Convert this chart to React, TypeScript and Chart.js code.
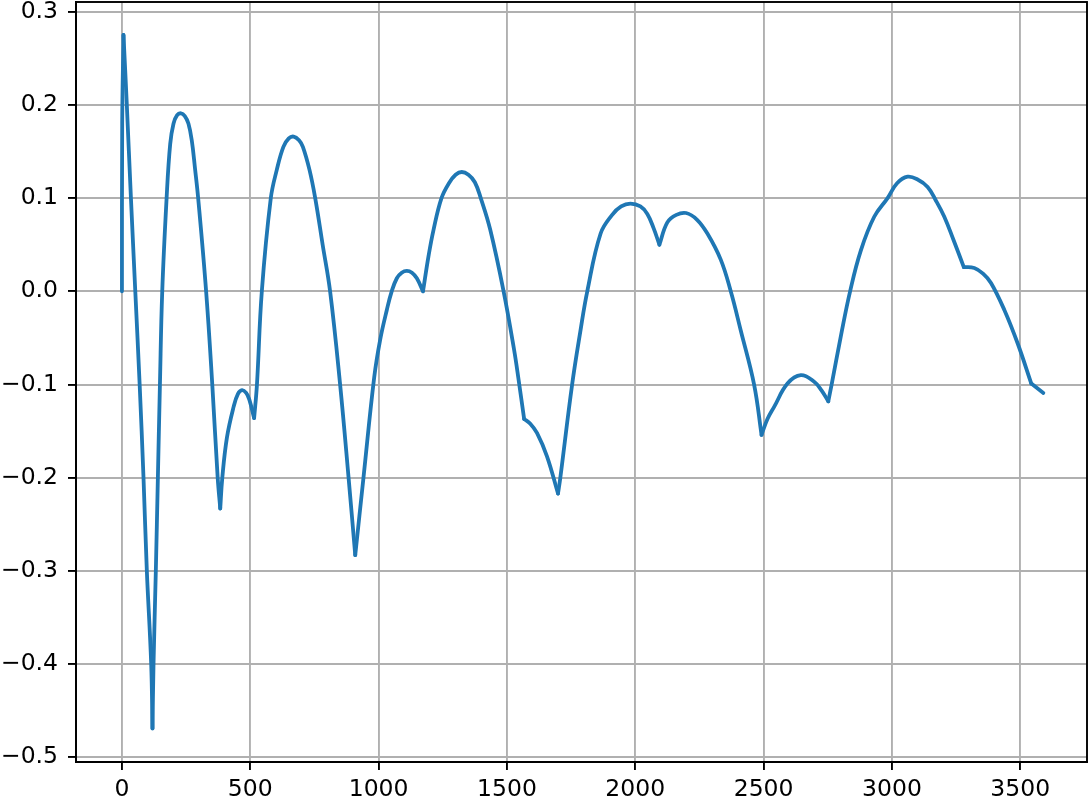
import React, { useEffect, useRef } from "react";
import { Chart, registerables } from "chart.js";

Chart.register(...registerables);

const xValues = [
  0, 1, 6, 19, 35, 52, 69, 84, 97, 114, 119, 123, 132, 140, 148, 157, 174, 188, 201, 215, 230, 245, 259, 272,
  285, 297, 328, 352, 373, 383, 391, 409, 435, 452, 468, 484, 496, 515, 526, 545, 580, 603, 629, 650, 669, 690,
  705, 731, 753, 782, 811, 850, 883, 909, 941, 983, 1006, 1032, 1051, 1071, 1090, 1110, 1130, 1149, 1173, 1194,
  1214, 1245, 1274, 1300, 1324, 1350, 1375, 1398, 1435, 1487, 1528, 1545, 1567, 1591, 1617, 1656, 1699, 1708,
  1754, 1786, 1813, 1865, 1910, 1945, 1981, 2020, 2047, 2071, 2094, 2125, 2160, 2198, 2240, 2281, 2333, 2372,
  2411, 2463, 2492, 2515, 2541, 2593, 2645, 2697, 2725, 2752, 2765, 2801, 2837, 2879, 2931, 2983, 3020, 3061,
  3100, 3139, 3170, 3204, 3240, 3280, 3321, 3355, 3386, 3438, 3490, 3543, 3590,
];

const yValues = [
  0, 0.18, 0.275, 0.2, 0.1, 0, -0.1, -0.2, -0.3, -0.4, -0.469, -0.4, -0.3, -0.2, -0.1, 0, 0.1, 0.158, 0.18, 0.189,
  0.191, 0.188, 0.18, 0.162, 0.131, 0.1, 0, -0.1, -0.2, -0.233, -0.2, -0.157, -0.124, -0.11, -0.106, -0.109,
  -0.116, -0.136, -0.1, 0, 0.1, 0.13, 0.155, 0.164, 0.166, 0.162, 0.155, 0.13, 0.1, 0.05, 0, -0.1, -0.2, -0.283,
  -0.2, -0.092, -0.052, -0.02, 0, 0.014, 0.02, 0.022, 0.02, 0.014, 0, 0.037, 0.066, 0.1, 0.116, 0.125, 0.128,
  0.125, 0.117, 0.1, 0.066, 0, -0.063, -0.094, -0.137, -0.142, -0.152, -0.177, -0.217, -0.2, -0.1, -0.043, 0,
  0.062, 0.082, 0.091, 0.094, 0.091, 0.083, 0.068, 0.05, 0.074, 0.082, 0.084, 0.077, 0.062, 0.034, 0, -0.042,
  -0.1, -0.154, -0.137, -0.124, -0.099, -0.09, -0.097, -0.106, -0.118, -0.1, -0.048, 0, 0.044, 0.08, 0.1, 0.116,
  0.123, 0.12, 0.112, 0.098, 0.08, 0.055, 0.026, 0.025, 0.019, 0.009, -0.02, -0.056, -0.099, -0.109,
];

// x positions where the curve has a sharp corner
const cornerX = [6, 119, 383, 515, 909, 1173, 1567, 1699, 2094, 2492, 2752, 3280, 3543];

const xTicks = [0, 500, 1000, 1500, 2000, 2500, 3000, 3500];
const yTicks = [-0.5, -0.4, -0.3, -0.2, -0.1, 0.0, 0.1, 0.2, 0.3];

const LINE_COLOR = "#1f77b4";
const FONT = { family: "'DejaVu Sans', sans-serif", size: 23.5 };

function buildSegments() {
  const segs: { x: number; y: number }[][] = [];
  let cur: { x: number; y: number }[] = [];
  xValues.forEach((x, i) => {
    const p = { x, y: yValues[i] };
    cur.push(p);
    if (cornerX.includes(x) && i < xValues.length - 1) {
      segs.push(cur);
      cur = [p];
    }
  });
  if (cur.length > 1) segs.push(cur);
  return segs;
}

const framePlugin = {
  id: "frame",
  afterDraw(chart: any) {
    const { ctx, chartArea } = chart;
    ctx.save();
    ctx.strokeStyle = "#000";
    ctx.lineWidth = 1.9;
    ctx.strokeRect(chartArea.left, chartArea.top, chartArea.right - chartArea.left, chartArea.bottom - chartArea.top);
    ctx.restore();
  },
};

export default function App() {
  const ref = useRef<HTMLCanvasElement>(null);

  useEffect(() => {
    if (!ref.current) return;
    const segs = buildSegments();
    const chart = new Chart(ref.current, {
      type: "line",
      data: {
        datasets: segs.map((s) => ({
          data: s,
          borderColor: LINE_COLOR,
          backgroundColor: LINE_COLOR,
          borderWidth: 3.8,
          pointRadius: 0,
          borderCapStyle: "round" as const,
          borderJoinStyle: "round" as const,
          tension: s.length > 2 ? 0.4 : 0,
          fill: false,
        })),
      },
      options: {
        animation: false,
        responsive: false,
        maintainAspectRatio: false,
        layout: { padding: { top: 2, right: 3, left: 0, bottom: 0 } },
        plugins: { legend: { display: false }, tooltip: { enabled: false } },
        scales: {
          x: {
            type: "linear",
            min: -179,
            max: 3760,
            afterBuildTicks: (axis: any) => {
              axis.ticks = xTicks.map((v) => ({ value: v }));
            },
            afterFit: (scale: any) => {
              scale.height = 37;
              scale.paddingLeft = 0;
              scale.paddingRight = 0;
            },
            grid: {
              color: "#b0b0b0",
              lineWidth: 1.9,
              tickColor: "#000",
              tickWidth: 1.9,
              tickLength: 8,
              drawTicks: true,
            },
            border: { color: "#000", width: 1.9 },
            ticks: {
              color: "#000",
              font: FONT,
              padding: 6,
              maxRotation: 0,
              autoSkip: false,
              callback: (v: any) => String(v),
            },
          },
          y: {
            type: "linear",
            min: -0.505,
            max: 0.3104,
            afterBuildTicks: (axis: any) => {
              axis.ticks = yTicks.map((v) => ({ value: v }));
            },
            afterFit: (scale: any) => {
              scale.width = 76;
              scale.paddingTop = 0;
              scale.paddingBottom = 0;
            },
            grid: {
              color: "#b0b0b0",
              lineWidth: 1.9,
              tickColor: "#000",
              tickWidth: 1.9,
              tickLength: 8,
              drawTicks: true,
            },
            border: { color: "#000", width: 1.9 },
            ticks: {
              color: "#000",
              font: FONT,
              padding: 10,
              autoSkip: false,
              callback: (v: any) => Number(v).toFixed(1).replace("-", "\u2212"),
            },
          },
        },
      },
      plugins: [framePlugin],
    });
    return () => chart.destroy();
  }, []);

  return (
    <div style={{ position: "fixed", left: 0, top: 0, width: 1090, height: 799, background: "#fff" }}>
      <canvas ref={ref} width={1090} height={799} style={{ display: "block" }} />
    </div>
  );
}
